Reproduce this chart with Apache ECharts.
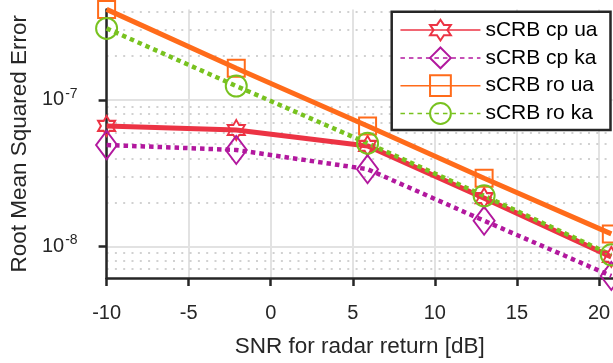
<!DOCTYPE html>
<html>
<head>
<meta charset="utf-8">
<script src="https://cdn.jsdelivr.net/npm/echarts@6/dist/echarts.min.js"></script>
<style>
  html, body { margin: 0; padding: 0; background: #fff; }
  #chart { width: 613px; height: 363px; }
</style>
</head>
<body>
<div id="chart"></div>
<script>
// values
var snrDb = [-10, -2.1, 5.9, 13, 20.75]
var crbCpUa = [6.65e-8, 6.24e-8, 4.86e-8, 2.14e-8, 8.5e-9]
var crbCpKa = [4.93e-8, 4.56e-8, 3.37e-8, 1.50e-8, 6.3e-9]
var crbRoUa = [4.15e-7, 1.645e-7, 6.65e-8, 2.92e-8, 1.22e-8]
var crbRoKa = [3.08e-7, 1.245e-7, 5.07e-8, 2.22e-8, 8.78e-9]
var seriesNames = ['sCRB cp ua', 'sCRB cp ka', 'sCRB ro ua', 'sCRB ro ka']
var xTicks = [-10, -5, 0, 5, 10, 15, 20]
var yTicks = [1e-8, 1e-7]
var yMinor = [7e-9, 8e-9, 9e-9, 2e-8, 3e-8, 4e-8, 5e-8, 6e-8, 7e-8, 8e-8, 9e-8, 2e-7, 3e-7, 4e-7]

var FONT = 'Liberation Sans, Arial, sans-serif'
var Y_MIN = 6.1e-9
var Y_MAX = 4.15e-7
var hexagram = 'path://M50,0L64.43,25L93.3,25L78.87,50L93.3,75L64.43,75L50,100L35.57,75L6.7,75L21.13,50L6.7,25L35.57,25Z'

function pairs(ys) {
  return snrDb.map(function (x, i) { return [x, ys[i]] })
}

function makeSeries(name, ys, color, dotted, symbol, size) {
  return {
    name: name,
    type: 'line',
    data: pairs(ys),
    z: 3,
    clip: false,
    symbol: symbol,
    symbolSize: size,
    showAllSymbol: true,
    lineStyle: { color: color, width: dotted ? 4.5 : 5, type: dotted ? [4.5, 4] : 'solid', cap: 'butt' },
    itemStyle: { color: 'rgba(255,255,255,0)', borderColor: color, borderWidth: 2 },
    emphasis: { disabled: true }
  }
}

var chart = echarts.init(document.getElementById('chart'), null, { renderer: 'canvas' })
chart.setOption({
  animation: false,
  textStyle: { fontFamily: FONT },
  grid: { left: 101.7, right: 0, top: 9.4, bottom: 84.8 },
  legend: {
    data: seriesNames,
    orient: 'vertical',
    left: 391.7,
    top: 11.7,
    itemWidth: 80,
    itemHeight: 26,
    itemGap: 5,
    padding: [7, 13, 5, 8],
    backgroundColor: '#fff',
    borderColor: '#262626',
    borderWidth: 2.5,
    lineStyle: { width: 1.5 },
    textStyle: { fontSize: 21, color: '#000', fontFamily: FONT },
    z: 10
  },
  xAxis: {
    type: 'value',
    min: -10,
    max: 20.84,
    interval: 5,
    name: 'SNR for radar return [dB]',
    nameLocation: 'middle',
    nameGap: 57,
    nameTextStyle: { fontSize: 22.5, color: '#262626' },
    axisLine: { onZero: false, lineStyle: { color: '#262626', width: 2.5 } },
    axisTick: { inside: false, length: 8, customValues: xTicks, lineStyle: { color: '#262626', width: 2.5 } },
    axisLabel: { customValues: xTicks, fontSize: 20, color: '#262626', margin: 25 },
    splitLine: { show: true, lineStyle: { color: '#e2e2e2', width: 2 } }
  },
  yAxis: [
    {
      type: 'log',
      logBase: 10,
      min: Y_MIN,
      max: Y_MAX,
      name: 'Root Mean Squared Error',
      nameLocation: 'middle',
      nameGap: 71,
      nameTextStyle: { fontSize: 22.5, color: '#262626' },
      axisLine: { onZero: false, lineStyle: { color: '#262626', width: 2.5 } },
      axisTick: { inside: false, length: 8, customValues: yTicks, lineStyle: { color: '#262626', width: 2.5 } },
      axisLabel: {
        customValues: yTicks,
        margin: 29,
        color: '#262626',
        formatter: function (v) {
          return '{b|10}{s|' + Math.round(Math.log10(v)) + '}'
        },
        rich: {
          b: { fontSize: 20, color: '#262626', fontFamily: FONT },
          s: { fontSize: 14, color: '#262626', fontFamily: FONT, padding: [0, 0, 12, 1] }
        }
      },
      splitLine: { show: true, lineStyle: { color: '#e2e2e2', width: 2 } },
      z: 2
    },
    {
      // second log axis only for the dotted minor grid
      type: 'log',
      logBase: 10,
      min: Y_MIN,
      max: Y_MAX,
      position: 'left',
      axisLine: { show: false, onZero: false },
      axisTick: { show: false, customValues: yMinor },
      axisLabel: { show: false, customValues: yMinor },
      splitLine: { show: true, lineStyle: { color: '#c2c2c2', width: 1.6, type: [2, 6.3] } },
      z: 1
    }
  ],
  series: [
    makeSeries(seriesNames[0], crbCpUa, '#ec3344', false, hexagram, [17, 20]),
    makeSeries(seriesNames[1], crbCpKa, '#b2189e', true, 'diamond', [21, 28]),
    makeSeries(seriesNames[2], crbRoUa, '#ff6b1a', false, 'rect', [17, 17]),
    makeSeries(seriesNames[3], crbRoKa, '#78c21f', true, 'circle', [21, 21])
  ]
})
</script>
</body>
</html>
